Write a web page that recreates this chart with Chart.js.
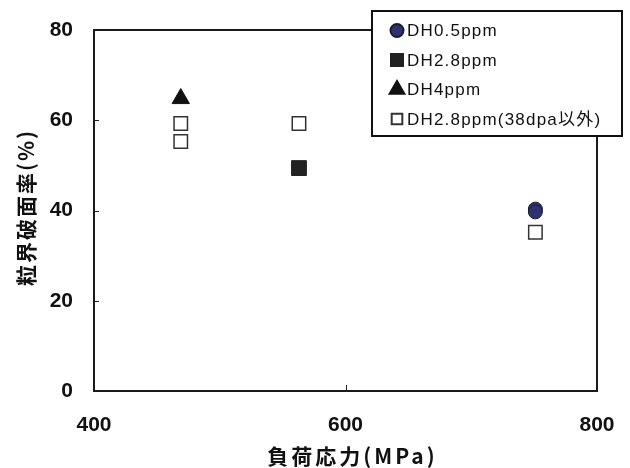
<!DOCTYPE html>
<html>
<head>
<meta charset="utf-8">
<script src="https://cdn.jsdelivr.net/npm/chart.js@4/dist/chart.umd.min.js"></script>
<style>
	html, body { margin: 0; padding: 0; background: #fff; }
	#wrap { width: 630px; height: 468px; position: relative; }
</style>
</head>
<body>
<div id="wrap"><canvas id="chart-igf"></canvas></div>
<script>
// Data
const SERIES_LABELS = ["DH0.5ppm", "DH2.8ppm", "DH4ppm", "DH2.8ppm(38dpa以外)"];
const DH05_STRESS = [751, 751];
const DH05_RATIO = [40.3, 39.7];
const DH28_STRESS = [563];
const DH28_RATIO = [49.4];
const DH4_STRESS = [469];
const DH4_RATIO = [64.8];
const DH28EX_STRESS = [469, 469, 563, 751];
const DH28EX_RATIO = [59.3, 55.3, 59.3, 35.2];
const X_TICKS = [400, 600, 800];
const Y_TICKS = [0, 20, 40, 60, 80];
const X_TITLE = "負荷応力(MPa)";
const Y_TITLE = "粒界破面率(%)";

const FONT_FAMILY = "'Liberation Sans', 'Noto Sans CJK JP', sans-serif";
const CJK_FAMILY = "'Noto Sans CJK JP', 'Liberation Sans', sans-serif";

const toPoints = (xs, ys) => xs.map((x, i) => ({ x: x, y: ys[i] }));

// Chart data
const CHART_DATA = {
	datasets: [
		{
			label: SERIES_LABELS[0],
			data: toPoints(DH05_STRESS, DH05_RATIO),
			pointStyle: "circle",
			pointRadius: 7,
			backgroundColor: "#2c3370",
			borderColor: "#1a1a2a",
			borderWidth: 1,
		},
		{
			label: SERIES_LABELS[1],
			data: toPoints(DH28_STRESS, DH28_RATIO),
			pointStyle: "rect",
			pointRadius: 10.5,
			backgroundColor: "#222",
			borderColor: "#222",
			borderWidth: 1,
		},
		{
			label: SERIES_LABELS[2],
			data: toPoints(DH4_STRESS, DH4_RATIO),
			pointStyle: "triangle",
			pointRadius: 10,
			backgroundColor: "#111",
			borderColor: "#111",
			borderWidth: 1,
		},
		{
			label: SERIES_LABELS[3],
			data: toPoints(DH28EX_STRESS, DH28EX_RATIO),
			pointStyle: "rect",
			pointRadius: 9.5,
			backgroundColor: "#fff",
			borderColor: "#333",
			borderWidth: 1.5,
		},
	],
};

// Frame, inner ticks, spaced axis titles and boxed legend
const framePlugin = {
	id: "frame",
	afterDatasetsDraw(chart) {
		const { ctx, chartArea, scales } = chart;
		ctx.save();
		ctx.strokeStyle = "#222";
		ctx.lineWidth = 1;
		Y_TICKS.slice(1, -1).forEach((v) => {
			const y = Math.round(scales.y.getPixelForValue(v)) + 0.5;
			ctx.beginPath();
			ctx.moveTo(chartArea.left, y);
			ctx.lineTo(chartArea.left + 5, y);
			ctx.stroke();
		});
		X_TICKS.slice(1, -1).forEach((v) => {
			const x = Math.round(scales.x.getPixelForValue(v)) + 0.5;
			ctx.beginPath();
			ctx.moveTo(x, chartArea.bottom);
			ctx.lineTo(x, chartArea.bottom - 6);
			ctx.stroke();
		});
		ctx.lineWidth = 2;
		ctx.strokeStyle = "#1a1a1a";
		ctx.strokeRect(chartArea.left, chartArea.top, chartArea.right - chartArea.left, chartArea.bottom - chartArea.top);

		// axis titles (letter-spaced like the original)
		ctx.fillStyle = "#111";
		ctx.font = "bold 21px " + CJK_FAMILY;
		ctx.letterSpacing = "3px";
		ctx.textAlign = "center";
		ctx.textBaseline = "middle";
		ctx.fillText(X_TITLE, (chartArea.left + chartArea.right) / 2 + 7, 456);
		ctx.letterSpacing = "2px";
		ctx.translate(26, (chartArea.top + chartArea.bottom) / 2 - 3);
		ctx.rotate(-Math.PI / 2);
		ctx.fillText(Y_TITLE, 0, 0);
		ctx.restore();
	},
	afterDraw(chart) {
		const { ctx } = chart;
		const box = { x: 372, y: 11, w: 250, h: 125 };
		ctx.save();
		ctx.fillStyle = "#fff";
		ctx.fillRect(box.x, box.y, box.w, box.h);
		ctx.lineWidth = 2;
		ctx.strokeStyle = "#111";
		ctx.strokeRect(box.x, box.y, box.w, box.h);
		const legendSizes = [6.5, 8.5, 8.5, 7.5];
		chart.data.datasets.forEach((ds, i) => {
			const cy = box.y + 19.5 + i * 29.5;
			ctx.fillStyle = ds.backgroundColor;
			ctx.strokeStyle = ds.borderColor;
			Chart.helpers.drawPoint(ctx, {
				pointStyle: ds.pointStyle,
				rotation: 0,
				radius: legendSizes[i],
				borderWidth: ds.borderWidth,
			}, 397, cy);
			ctx.fillStyle = "#111";
			ctx.font = "17px " + FONT_FAMILY;
			ctx.letterSpacing = "1.2px";
			ctx.textBaseline = "middle";
			ctx.textAlign = "left";
			ctx.fillText(ds.label, 407, cy + 1);
		});
		ctx.restore();
	},
};

// Chart config
const CHART_CONFIG = {
	type: "scatter",
	data: CHART_DATA,
	plugins: [framePlugin],
	options: {
		responsive: true,
		maintainAspectRatio: false,
		animation: false,
		layout: {
			padding: { top: 30, right: 33, left: 0, bottom: 0 },
		},
		scales: {
			x: {
				type: "linear",
				min: 400,
				max: 800,
				afterBuildTicks: (scale) => {
					scale.ticks = X_TICKS.map((v) => ({ value: v }));
				},
				afterFit: (scale) => {
					scale.height = 77;
					scale.paddingLeft = 0;
					scale.paddingRight = 0;
				},
				grid: { display: false, drawTicks: false },
				border: { display: false },
				ticks: {
					padding: 22,
					color: "#111",
					font: { family: FONT_FAMILY, size: 21, weight: "bold" },
				},
			},
			y: {
				min: 0,
				max: 80,
				afterBuildTicks: (scale) => {
					scale.ticks = Y_TICKS.map((v) => ({ value: v }));
				},
				afterFit: (scale) => {
					scale.width = 94;
					scale.paddingTop = 0;
					scale.paddingBottom = 0;
				},
				grid: { display: false, drawTicks: false },
				border: { display: false },
				ticks: {
					padding: 21,
					color: "#111",
					font: { family: FONT_FAMILY, size: 21, weight: "bold" },
				},
			},
		},
		plugins: {
			legend: { display: false },
			tooltip: { enabled: false },
		},
	},
};

// Chart init
const CHART_WRAPPER = document.getElementById("chart-igf");
if (CHART_WRAPPER) {
	new Chart(CHART_WRAPPER, CHART_CONFIG);
}
</script>
</body>
</html>
